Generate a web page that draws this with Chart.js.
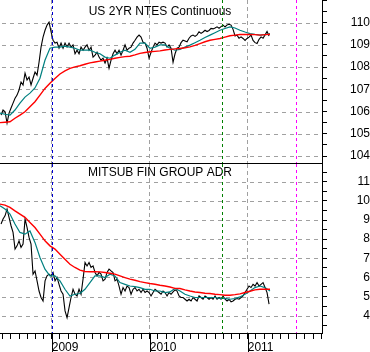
<!DOCTYPE html>
<html>
<head>
<meta charset="utf-8">
<script src="https://cdn.jsdelivr.net/npm/chart.js@4"></script>
<style>
  html, body { margin: 0; padding: 0; background: #fff; }
  #wrap { position: relative; width: 370px; height: 352px; overflow: hidden; }
  #top { position: absolute; left: 0; top: 0; }
  #bot { position: absolute; left: 0; top: 164px; }
</style>
</head>
<body>
<div id="wrap">
  <canvas id="top" width="370" height="164"></canvas>
  <canvas id="bot" width="370" height="188"></canvas>
</div>
<script>
// weekly closes, starting late June 2008
var firstWeek = 2008.483;
var weeksPerYear = 49;

var notePrice = [105.84,106.07,105.99,105.48,105.93,106.16,106.38,106.6,106.74,106.97,
  107.33,107.19,107.73,107.42,107.55,107.2,107.5,107.78,107.64,108.22,
  108.9,109.35,109.66,109.89,110.02,109.6,109.21,109.08,109.12,108.85,
  109.08,108.85,109.08,108.9,109.08,108.9,109.0,108.6,108.76,108.6,
  108.9,108.76,108.9,109.0,108.76,108.9,108.45,108.54,108.67,108.45,
  108.31,108.4,108.18,108.4,107.95,108.31,108.6,108.76,108.6,108.76,
  108.54,108.76,109.0,108.76,108.85,108.9,109.08,109.21,109.35,109.44,
  109.35,109.12,109.08,108.85,108.4,108.67,108.9,109.08,109.0,109.12,
  109.08,109.12,109.08,108.9,109.0,108.85,108.22,108.6,108.85,108.9,
  109.1,109.21,109.18,109.14,109.3,109.4,109.44,109.38,109.45,109.59,
  109.52,109.58,109.66,109.6,109.65,109.74,109.72,109.76,109.81,109.75,
  109.82,109.89,109.81,109.9,109.93,109.89,109.7,109.4,109.44,109.3,
  109.36,109.29,109.2,109.29,109.35,109.44,109.2,109.1,109.06,109.25,
  109.36,109.3,109.45,109.6,109.4];

var mtuPrice = [8.79,9.05,9.22,9.57,9.14,8.7,8.35,7.48,7.65,7.91,
  7.57,7.74,9.05,8.61,8.09,7.74,6.17,6.34,5.82,5.29,
  4.95,4.77,5.82,6.08,6.17,6.08,6.26,5.82,6.0,5.64,
  5.29,5.12,4.25,3.9,4.42,4.95,5.38,5.12,5.03,5.38,
  5.12,5.91,6.78,6.6,6.78,6.52,6.6,6.26,6.08,6.26,
  6.17,5.82,5.91,6.26,6.43,6.34,6.26,5.82,5.91,5.55,
  5.12,5.47,5.29,5.55,5.47,5.12,5.38,5.47,5.29,5.38,
  5.21,5.38,5.21,5.29,5.21,5.03,5.21,5.38,5.29,5.21,
  5.12,5.29,5.21,5.03,5.21,5.12,5.24,5.35,5.29,5.03,
  4.95,4.95,4.86,4.77,4.86,4.77,4.95,4.86,4.77,5.03,
  4.95,4.86,5.03,4.95,4.86,4.95,4.86,5.03,4.86,4.95,
  4.86,5.03,4.86,4.77,4.86,4.72,4.77,4.86,4.9,4.86,
  4.95,5.03,5.21,5.38,5.55,5.47,5.64,5.55,5.73,5.55,
  5.64,5.73,5.47,5.21,4.6];

// moving averages, read every ~2.5 weeks
var avgStart = 2008.472;
var avgPerYear = 19.6;

var noteFast = [105.93,105.88,105.84,106.07,106.38,106.65,106.83,107.06,107.5,108.31,
  108.85,108.9,108.9,108.94,108.9,108.85,108.76,108.76,108.76,108.67,
  108.6,108.45,108.4,108.54,108.67,108.76,108.67,108.8,109.08,109.08,
  108.85,108.9,109.0,109.0,108.85,108.76,108.8,108.9,108.99,109.1,
  109.21,109.33,109.44,109.55,109.66,109.74,109.81,109.76,109.66,109.58,
  109.51,109.47,109.44,109.46,109.51];

var noteSlow = [105.5,105.52,105.54,105.7,105.84,105.99,106.22,106.44,106.74,107.04,
  107.27,107.49,107.69,107.83,107.94,108.01,108.06,108.13,108.19,108.23,
  108.27,108.31,108.35,108.4,108.44,108.47,108.49,108.55,108.62,108.66,
  108.69,108.71,108.73,108.77,108.8,108.82,108.84,108.87,108.91,108.98,
  109.06,109.14,109.21,109.25,109.29,109.35,109.41,109.44,109.47,109.47,
  109.47,109.46,109.44,109.46,109.48];

var mtuFast = [9.74,9.57,9.31,8.79,8.35,8.26,8.43,7.83,7.04,6.43,
  6.08,6.08,5.82,5.38,5.03,5.12,5.16,5.38,5.73,6.08,
  6.08,5.99,6.17,6.08,5.73,5.64,5.55,5.52,5.47,5.38,
  5.38,5.29,5.29,5.21,5.24,5.42,5.29,5.12,5.03,4.95,
  4.95,4.95,4.95,4.95,4.91,4.9,4.86,4.9,4.98,5.12,
  5.29,5.47,5.55,5.47,5.29];

var mtuSlow = [9.83,9.78,9.66,9.48,9.31,9.14,8.87,8.61,8.26,7.91,
  7.65,7.48,7.21,6.95,6.69,6.52,6.38,6.31,6.3,6.3,
  6.29,6.26,6.22,6.17,6.08,5.99,5.91,5.85,5.78,5.73,
  5.68,5.64,5.59,5.55,5.5,5.43,5.42,5.35,5.29,5.24,
  5.21,5.17,5.16,5.12,5.1,5.07,5.07,5.1,5.14,5.21,
  5.28,5.35,5.38,5.38,5.38];

var yearLabels = [2009, 2010, 2011];
var noteLabels = [104, 105, 106, 107, 108, 109, 110];
var mtuLabels = [4, 5, 6, 7, 8, 9, 10, 11];
var markers = [
  { year: 2009.0, color: '#0000d0' },
  { year: 2010.74, color: '#008000' },
  { year: 2011.49, color: '#ff00ff' }
];

var xMin = 2008.4724, xMax = 2011.758;
var gridGray = '#a0a0a0';
var fontFam = "Arial, 'Liberation Sans', sans-serif";

function weekly(vals) {
  return vals.map(function (v, i) { return { x: firstWeek + i / weeksPerYear, y: v }; });
}
function averaged(vals) {
  return vals.map(function (v, i) { return { x: avgStart + i / avgPerYear, y: v }; });
}
function isYear(v) { return Math.abs(v - Math.round(v)) < 1e-6; }

var monthTicks = [];
for (var k = Math.ceil(xMin * 12); k <= Math.floor(xMax * 12); k++) monthTicks.push(k / 12);

function lines(price, fast, slow) {
  return [
    { data: averaged(slow), borderColor: '#ff0000', borderWidth: 1.4 },
    { data: averaged(fast), borderColor: '#008080', borderWidth: 1.2 },
    { data: weekly(price), borderColor: '#000000', borderWidth: 1.1 }
  ];
}

function yAxis(min, max, labels, pad) {
  return {
    position: 'right', min: min, max: max,
    afterBuildTicks: function (s) {
      var t = [];
      for (var v = Math.ceil(min * 2) / 2; v <= max; v += 0.5) t.push({ value: v });
      s.ticks = t;
    },
    afterFit: function (s) { s.width = 48; s.paddingTop = 0; s.paddingBottom = 0; },
    grid: { drawOnChartArea: false, tickColor: '#000', tickLength: 5, lineWidth: 1 },
    border: { display: true, color: '#000', width: 1 },
    ticks: {
      autoSkip: false, crossAlign: 'far', padding: pad, color: '#000',
      font: { family: fontFam, size: 12 },
      callback: function (v) { return labels.indexOf(v) >= 0 ? String(v) : ''; }
    }
  };
}

function xAxis(showTicks) {
  return {
    type: 'linear', min: xMin, max: xMax,
    afterBuildTicks: function (s) { s.ticks = monthTicks.map(function (v) { return { value: v }; }); },
    afterFit: function (s) { s.height = showTicks ? 19 : 0; s.paddingLeft = 0; s.paddingRight = 0; },
    grid: {
      color: function (c) { return c.tick && isYear(c.tick.value) ? gridGray : 'transparent'; },
      tickColor: '#000', tickLength: 6, drawTicks: showTicks
    },
    border: { display: true, color: '#000', width: 1, dash: [4, 3] },
    ticks: {
      display: showTicks, autoSkip: false, maxRotation: 0, minRotation: 0, align: 'start', padding: 1,
      color: '#000', font: { family: fontFam, size: 12 },
      callback: function (v) { return isYear(v) && yearLabels.indexOf(Math.round(v)) >= 0 ? String(Math.round(v)) : ''; }
    }
  };
}

// canvas id -> labelled levels that get a horizontal grid line
var levelsFor = { top: noteLabels, bot: mtuLabels };

var panelDeco = {
  id: 'panelDeco',
  beforeDatasetsDraw: function (chart, args, opts) {
    var ctx = chart.ctx, area = chart.chartArea, ys = chart.scales.y;
    var lv = levelsFor[chart.canvas.id] || [];
    ctx.save();
    // horizontal grid: each dash is a small filled 2px block so it survives the photo
    ctx.fillStyle = gridGray;
    for (var i = 0; i < lv.length; i++) {
      var row = Math.round(ys.getPixelForValue(lv[i]));
      for (var x = Math.ceil(area.left) + 2; x < area.right - 1; x += 8) {
        ctx.fillRect(x, row, Math.min(4, area.right - 1 - x), 1);
      }
    }
    ctx.font = '12px ' + fontFam;
    ctx.fillStyle = '#000';
    ctx.textAlign = 'center';
    ctx.textBaseline = 'middle';
    ctx.fillText(opts.title, 160, opts.titleY);
    ctx.restore();
  },
  afterDatasetsDraw: function (chart, args, opts) {
    var ctx = chart.ctx, area = chart.chartArea, xs = chart.scales.x;
    ctx.save();
    ctx.lineWidth = 1;
    ctx.setLineDash([3, 3]);
    markers.forEach(function (m) {
      var px = Math.round(xs.getPixelForValue(m.year)) + 0.5;
      ctx.strokeStyle = m.color;
      ctx.beginPath();
      ctx.moveTo(px, area.top);
      ctx.lineTo(px, area.bottom);
      ctx.stroke();
    });
    ctx.setLineDash([]);
    if (opts.yearTicks) {
      ctx.strokeStyle = '#000';
      yearLabels.forEach(function (y) {
        var px = Math.round(xs.getPixelForValue(y)) + 0.5;
        ctx.beginPath();
        ctx.moveTo(px, area.bottom);
        ctx.lineTo(px, chart.height);
        ctx.stroke();
      });
    }
    ctx.restore();
  }
};

function makeChart(id, price, fast, slow, yMin, yMax, labels, pad, showX, title, titleY) {
  return new Chart(document.getElementById(id), {
    type: 'line',
    data: { datasets: lines(price, fast, slow) },
    options: {
      responsive: false, animation: false,
      layout: { padding: { left: 0, right: 0, top: 0, bottom: showX ? 0 : 1 } },
      elements: { point: { radius: 0 }, line: { tension: 0 } },
      plugins: {
        legend: { display: false }, tooltip: { enabled: false },
        panelDeco: { title: title, titleY: titleY, yearTicks: showX }
      },
      scales: { x: xAxis(showX), y: yAxis(yMin, yMax, labels, pad) }
    },
    plugins: [panelDeco]
  });
}

makeChart('top', notePrice, noteFast, noteSlow, 103.685, 111.02, noteLabels, 18, false, 'US 2YR NTES Continuous', 11.5);
makeChart('bot', mtuPrice, mtuFast, mtuSlow, 3.096, 11.926, mtuLabels, 25, true, 'MITSUB FIN GROUP ADR', 8.5);
</script>
</body>
</html>
